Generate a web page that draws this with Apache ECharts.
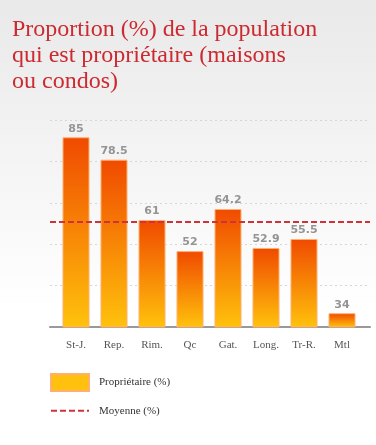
<!DOCTYPE html>
<html>
<head>
<meta charset="utf-8">
<script src="https://cdn.jsdelivr.net/npm/echarts@6/dist/echarts.min.js"></script>
<style>
  html, body { margin: 0; padding: 0; }
  #main-chart { width: 376px; height: 445px; }
</style>
</head>
<body>
<div id="main-chart"></div>
<script>
// villes / régions
const categories = ['St-J.', 'Rep.', 'Rim.', 'Qc', 'Gat.', 'Long.', 'Tr-R.', 'Mtl'];
// proportion de propriétaires (%)
const proprietaires = [85, 78.5, 61, 52, 64.2, 52.9, 55.5, 34];
const yMin = 30, yMax = 90, yStep = 12;

// moyenne des valeurs
const moyenne = proprietaires.reduce((a, b) => a + b, 0) / proprietaires.length;
const moyenneData = categories.map(() => +moyenne.toFixed(1));

let chartDom = document.getElementById('main-chart');
let myChart = echarts.init(chartDom);

const serif = '"Liberation Serif", "DejaVu Serif", serif';

myChart.setOption({
  animation: false,
  backgroundColor: {
    type: 'linear', x: 0, y: 0, x2: 0, y2: 1,
    colorStops: [
      { offset: 0, color: '#e9e9e9' },
      { offset: 0.45, color: '#f7f7f7' },
      { offset: 0.7, color: '#ffffff' },
      { offset: 1, color: '#ffffff' }
    ]
  },
  title: {
    text: 'Proportion (%) de la population\nqui est propriétaire (maisons\nou condos)',
    left: 7,
    top: 12,
    textStyle: {
      fontFamily: serif,
      fontWeight: 'normal',
      fontSize: 24,
      lineHeight: 26,
      color: '#cc2a30'
    }
  },
  legend: {
    orient: 'vertical',
    left: 50,
    top: 373,
    padding: 0,
    itemWidth: 38,
    itemHeight: 17,
    itemGap: 12,
    textStyle: { fontFamily: serif, fontSize: 11, color: '#333', padding: [0, 0, 0, 5] },
    data: [
      { name: 'Propriétaire (%)', icon: 'rect', itemStyle: { color: '#ffc10e' } },
      { name: 'Moyenne (%)', itemStyle: { opacity: 0 } }
    ]
  },
  grid: [
    { left: 50, right: 6, top: 120, bottom: 118 },
    { left: 57, right: 15, top: 120, bottom: 118 }
  ],
  xAxis: [
    {
      type: 'category', gridIndex: 0, data: categories, boundaryGap: false,
      axisLine: { lineStyle: { color: '#999', width: 2 } },
      axisTick: { show: false }, axisLabel: { show: false }
    },
    {
      type: 'category', gridIndex: 1, data: categories,
      axisLine: { show: false }, axisTick: { show: false },
      axisLabel: { fontFamily: serif, fontSize: 11, color: '#555', margin: 13 }
    }
  ],
  yAxis: [
    {
      type: 'value', gridIndex: 0, min: yMin, max: yMax, interval: yStep,
      axisLabel: { show: false }, axisLine: { show: false }, axisTick: { show: false },
      splitLine: { lineStyle: { type: [2, 3], color: '#d6d6d6' } }
    },
    {
      type: 'value', gridIndex: 1, min: yMin, max: yMax, interval: yStep,
      axisLabel: { show: false }, axisLine: { show: false }, axisTick: { show: false },
      splitLine: { show: false }
    }
  ],
  series: [
    {
      name: 'Propriétaire (%)',
      type: 'bar',
      xAxisIndex: 1, yAxisIndex: 1,
      barWidth: 27,
      z: 3,
      data: proprietaires,
      itemStyle: {
        color: {
          type: 'linear', x: 0, y: 0, x2: 0, y2: 1,
          colorStops: [
            { offset: 0, color: '#f04a00' },
            { offset: 1, color: '#ffc20c' }
          ]
        },
        borderColor: '#ffb070',
        borderWidth: 1
      },
      label: {
        show: true,
        position: 'top',
        distance: 3,
        fontFamily: '"DejaVu Sans", Verdana, sans-serif',
        fontWeight: 'bold',
        fontSize: 11,
        color: '#949494'
      }
    },
    {
      name: 'Moyenne (%)',
      type: 'line',
      xAxisIndex: 0, yAxisIndex: 0,
      z: 4,
      data: moyenneData,
      showSymbol: false,
      symbol: 'none',
      itemStyle: { color: '#d0323a' },
      lineStyle: { color: '#d0323a', width: 2, type: [6, 3] }
    }
  ]
});
</script>
</body>
</html>
